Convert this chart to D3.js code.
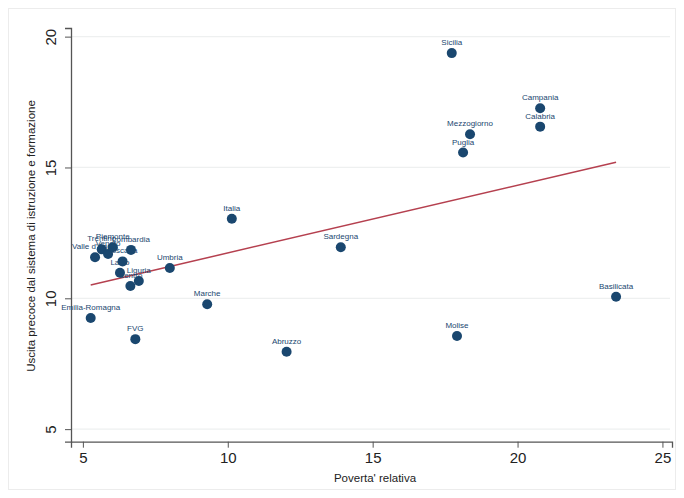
<!DOCTYPE html>
<html><head><meta charset="utf-8">
<script src="https://cdn.jsdelivr.net/npm/d3@7"></script>
<style>body{margin:0;background:#fff}svg{display:block;font-family:"Liberation Sans",Arial,sans-serif}</style>
</head><body><svg id="c" width="684" height="498"></svg>
<script>
const regions = ["Sicilia","Campania","Calabria","Mezzogiorno","Puglia","Italia","Sardegna","Basilicata","Molise","Abruzzo","Marche","Umbria","FVG","Emilia-Romagna","Valle d'Aosta","Trentino","Veneto","Piemonte","Lombardia","Toscana","Lazio","Liguria","Centro"];
const poverty = [17.73,20.78,20.78,18.36,18.12,10.14,13.90,23.40,17.91,12.03,9.29,8.00,6.81,5.27,5.42,5.65,5.87,6.03,6.66,6.37,6.28,6.93,6.64];
const earlyLeavers = [19.37,17.26,16.56,16.27,15.57,13.04,11.95,10.06,8.56,7.96,9.77,11.16,8.44,9.25,11.57,11.87,11.69,11.95,11.85,11.41,10.98,10.66,10.47];
const fitX = [5.27, 23.4];
const fitY = [10.51, 15.2];
const xTicks = [5,10,15,20,25];
const yTicks = [5,10,15,20];
const xTitle = "Poverta' relativa";
const yTitle = "Uscita precoce dal sistema di istruzione e formazione";

const svg = d3.select("#c");
svg.append("rect").attr("x",8.5).attr("y",8.5).attr("width",667).attr("height",481)
  .attr("fill","#fff").attr("stroke","#ececec");
const x = d3.scaleLinear().domain([4.59,25.33]).range([71,672]);
const y = d3.scaleLinear().domain([4.52,20.33]).range([441.7,28]);

// gridlines
svg.append("g").selectAll("line").data(yTicks).join("line")
  .attr("x1",72).attr("x2",670).attr("y1",d=>y(d)).attr("y2",d=>y(d))
  .attr("stroke","#eef0f0").attr("stroke-width",1.2);

// axes
const xa = svg.append("g").attr("transform",`translate(0,${y.range()[0]})`)
  .call(d3.axisBottom(x).tickValues(xTicks).tickSize(6).tickPadding(5).tickFormat(d3.format("d")));
const ya = svg.append("g").attr("transform",`translate(${x.range()[0]},0)`)
  .call(d3.axisLeft(y).tickValues(yTicks).tickSize(6).tickPadding(5).tickFormat(d3.format("d")));
[xa,ya].forEach(a=>{
  a.select(".domain").attr("stroke","#555").attr("stroke-width",1.3);
  a.selectAll(".tick line").attr("stroke","#555").attr("stroke-width",1);
  a.selectAll(".tick text").attr("font-size",15).attr("fill","#222").attr("font-family","Liberation Sans, Arial, sans-serif");
});
ya.selectAll(".tick text")
  .attr("text-anchor","middle").attr("x",0).attr("y",0).attr("dy","0.35em")
  .attr("transform","translate(-20,0) rotate(-90)");

// titles
svg.append("text").attr("x",375).attr("y",482).attr("text-anchor","middle")
  .attr("font-size",11.5).attr("fill","#222").text(xTitle);
svg.append("text").attr("transform","translate(35,236) rotate(-90)").attr("text-anchor","middle")
  .attr("font-size",11.5).attr("fill","#222").text(yTitle);

// fit line
svg.append("line").attr("x1",x(fitX[0])).attr("y1",y(fitY[0])).attr("x2",x(fitX[1])).attr("y2",y(fitY[1]))
  .attr("stroke","#b5404f").attr("stroke-width",1.5);

const data = regions.map((r,i)=>({r, px:poverty[i], py:earlyLeavers[i]}));
svg.append("g").selectAll("circle").data(data).join("circle")
  .attr("cx",d=>x(d.px)).attr("cy",d=>y(d.py)).attr("r",5)
  .attr("fill","#1a476f");
svg.append("g").selectAll("text").data(data).join("text")
  .attr("x",d=>x(d.px)).attr("y",d=>y(d.py)-8).attr("text-anchor","middle")
  .attr("font-size",8).attr("fill","#1a476f").text(d=>d.r);
</script></body></html>
